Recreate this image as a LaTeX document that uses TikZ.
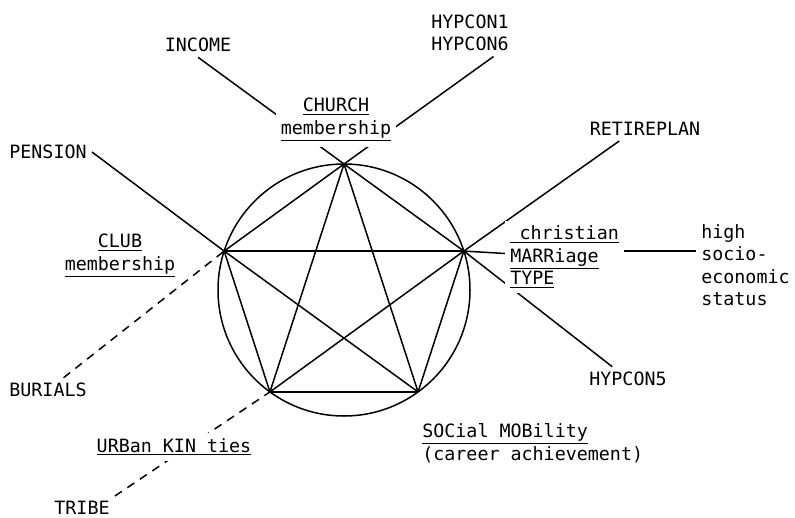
\documentclass[tikz,border=0pt]{standalone}
\usepackage{fontspec}
\setmonofont{DejaVu Sans Mono}
\usetikzlibrary{positioning,calc,backgrounds}

\begin{document}
\begin{tikzpicture}[
    x=0.6pt, y=-0.6pt,
    lbl/.style={font=\ttfamily\fontsize{11}{13.5}\selectfont, inner sep=3pt},
    tag/.style={lbl, fill=white, align=center},
    link/.style={draw, line width=0.9pt},
    weak/.style={link, dash pattern=on 5pt off 4pt}
]
    \useasboundingbox (0,0) rectangle (795,518);
    \coordinate (c) at (344,290);
    \foreach \a [count=\i] in {-90,198,126,54,-18}
        \coordinate (v\i) at ($(c)+(\a:126)$);

    \node[tag] (church) at (336,120) {\underline{CHURCH}\\\underline{membership}};
    \node[tag] (club) at (120,256) {\underline{CLUB}\\\underline{membership}};
    \node[tag] (urban) at (174,447) {\underline{URBan KIN ties}};
    \node[tag, align=left, anchor=west] (marriage) at (505,257) {\underline{\hspace{0.5em}christian}\\\underline{MARRiage}\\\underline{TYPE}};
    \node[tag, align=left, anchor=west] (mobility) at (417,443) {\underline{SOCial MOBility}\\(career achievement)};

    \node[lbl] (income) at (198,45) {INCOME};
    \node[lbl, align=center] (hypcon) at (470,33) {HYPCON1\\HYPCON6};
    \node[lbl] (pension) at (48,152) {PENSION};
    \node[lbl] (burials) at (48,390) {BURIALS};
    \node[lbl] (tribe) at (82,508) {TRIBE};
    \node[lbl] (retire) at (645,129) {RETIREPLAN};
    \node[lbl] (hypcon5) at (628,379) {HYPCON5};
    \node[lbl, align=left, anchor=west] (high) at (696,265) {high\\socio-\\economic\\status};

    \begin{scope}[on background layer]
        \draw[link] (c) circle[radius=126];
        \foreach \i/\j in {1/2,1/3,1/4,1/5,2/3,2/4,2/5,3/4,3/5,4/5}
            \draw[link] (v\i) -- (v\j);
        \draw[link] (income.south) -- (v1);
        \draw[link] (hypcon.-45) -- (v1);
        \draw[link] (pension.east) -- (v2);
        \draw[weak] (burials) -- (v2);
        \draw[weak] (tribe.north east) -- (v3);
        \draw[link] (retire.205) -- (v5);
        \draw[link] (hypcon5) -- (v5);
        \draw[link] (v5) -- (marriage);
        \draw[link] (marriage.east |- v5) -- (high.west |- v5);
    \end{scope}
\end{tikzpicture}
\end{document}
